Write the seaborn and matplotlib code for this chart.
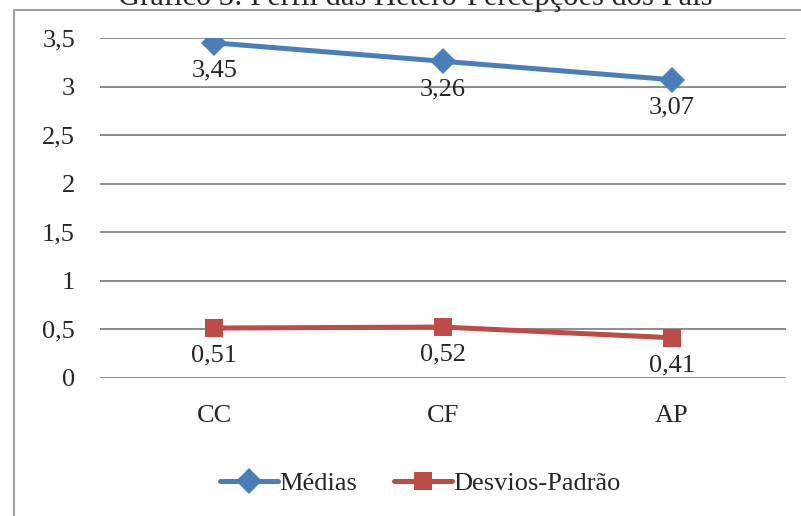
import matplotlib
matplotlib.use("Agg")
import matplotlib.pyplot as plt
from matplotlib.patches import Rectangle
import seaborn as sns
import pandas as pd

categorias = ["CC", "CF", "AP"]
medias = [3.45, 3.26, 3.07]
desvios = [0.51, 0.52, 0.41]
series = ["Médias", "Desvios-Padrão"]
y_ticks = [0, 0.5, 1, 1.5, 2, 2.5, 3, 3.5]
y_labels = ["0", "0,5", "1", "1,5", "2", "2,5", "3", "3,5"]
titulo = "Gráfico 3: Perfil das Hetero-Percepções dos Pais"

df = pd.DataFrame({
    "cat": categorias * 2,
    "valor": medias + desvios,
    "serie": [series[0]] * 3 + [series[1]] * 3,
})

sns.set_style("white")
plt.rcParams["font.family"] = ["Liberation Serif", "DejaVu Serif"]

cores = {series[0]: "#4A7EBB", series[1]: "#BE4B48"}

fig = plt.figure(figsize=(8.01, 5.16), dpi=100)
ax = fig.add_axes([100 / 801, 1 - 377.5 / 516, 686 / 801, 339.5 / 516])

sns.lineplot(data=df, x="cat", y="valor", hue="serie", style="serie",
             markers={series[0]: "D", series[1]: "s"}, dashes=False,
             palette=cores, linewidth=3.6, markersize=13,
             markeredgewidth=0, ax=ax, sort=False)

ax.set_xlim(-0.5, 2.5)
ax.set_ylim(0, 3.5)
ax.set_yticks(y_ticks)
ax.set_yticklabels(y_labels)
ax.yaxis.grid(True, color="#8c8c8c", linewidth=1.4)
ax.set_axisbelow(True)
for s in ax.spines.values():
    s.set_visible(False)
ax.tick_params(axis="y", length=0, pad=18, labelsize=19)
ax.tick_params(axis="x", length=0, pad=20, labelsize=19)
ax.set_xlabel("")
ax.set_ylabel("")

# rótulos de dados
for vals in (medias, desvios):
    for i, v in enumerate(vals):
        ax.annotate(f"{v:.2f}".replace(".", ","), (i, v), xytext=(0, -20),
                    textcoords="offset points", ha="center", va="center",
                    fontsize=19)

leg = ax.legend(loc="center", bbox_to_anchor=(420 / 801, 1 - 483 / 516),
                bbox_transform=fig.transFigure, ncol=2, frameon=False,
                fontsize=19, handlelength=2.2, handletextpad=0.05,
                columnspacing=1.4)
for h in leg.legend_handles:
    h.set_linewidth(3.6)

# título cortado no topo, como no original
fig.text(415 / 801, 1 - 5 / 516, titulo, ha="center", va="baseline",
         fontsize=22)

fig.add_artist(Rectangle((13.5 / 801, -0.1), 1.2, 0.1 + 1 - 9.5 / 516,
                         transform=fig.transFigure, fill=False,
                         edgecolor="#8c8c8c", linewidth=1.2))

fig.savefig("out.png", dpi=100)
